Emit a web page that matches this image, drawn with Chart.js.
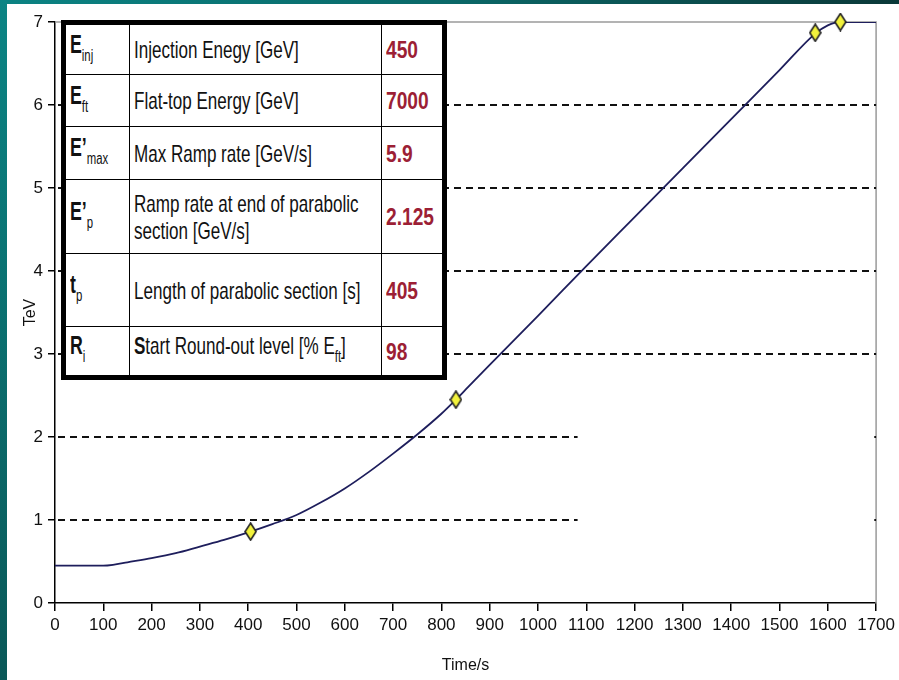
<!DOCTYPE html>
<html>
<head>
<meta charset="utf-8">
<script src="https://cdn.jsdelivr.net/npm/chart.js@4.4.1/dist/chart.umd.min.js"></script>
<style>
  html, body { margin: 0; padding: 0; }
  body { width: 899px; height: 680px; position: relative; overflow: hidden; background: #0b6e6e; }
  #topbar { position: absolute; left: 0; top: 0; width: 899px; height: 4px;
    background: linear-gradient(to right, #0b8383, #0a6868 50%, #0a3838); }
  #leftbar { position: absolute; left: 0; top: 0; width: 7px; height: 680px;
    background: linear-gradient(to bottom, #0b8484, #0a5858); }
  #wrap { position: absolute; left: 7px; top: 4px; width: 892px; height: 676px; background: #fff; }
  #params { position: absolute; left: 61px; top: 20px; width: 386px; table-layout: fixed;
    border-collapse: collapse; border: 5px solid #000; background: #fff; color: #111;
    font-family: "Liberation Sans", Arial, sans-serif; }
  #params td { border: 1.5px solid #000; padding: 0 0 0 4px; vertical-align: middle;
    font-size: 24px; line-height: 27px; white-space: nowrap; overflow: visible; }
  #params td span { display: inline-block; transform: scaleX(0.71); transform-origin: left center; }
  #params td.val span { transform: scaleX(0.8); }
  #params td.sym b { font-size: 25px; }
  #params sub { font-size: 16px; vertical-align: -8px; }
  #params td.val { font-weight: bold; color: #9c1f35; }
</style>
</head>
<body>
<div id="topbar"></div>
<div id="leftbar"></div>
<div id="wrap"><canvas id="rampChart" width="892" height="676"></canvas></div>
<table id="params">
  <colgroup><col style="width:65px"><col style="width:249px"><col style="width:62px"></colgroup>
  <tbody id="paramRows"></tbody>
</table>
<script>
// ramp curve (time in s, energy in TeV)
const timeSec   = [0, 100, 120, 150, 200, 250, 300, 350, 405, 450, 500, 550, 600, 650, 700, 750, 800, 830, 850, 900, 1000, 1100, 1200, 1300, 1400, 1500, 1574, 1600, 1626, 1700];
const energyTeV = [0.45, 0.45, 0.46, 0.49, 0.54, 0.60, 0.68, 0.76, 0.86, 0.95, 1.06, 1.21, 1.38, 1.58, 1.80, 2.03, 2.28, 2.45, 2.57, 2.87, 3.46, 4.06, 4.65, 5.24, 5.83, 6.42, 6.86, 6.96, 7.0, 7.0];

// yellow diamonds
const markerTime = [405, 830, 1574, 1626];
const markerTeV  = [0.86, 2.45, 6.87, 7.0];

const xTickValues = [0, 100, 200, 300, 400, 500, 600, 700, 800, 900, 1000, 1100, 1200, 1300, 1400, 1500, 1600, 1700];
const yTickValues = [0, 1, 2, 3, 4, 5, 6, 7];

// parameter table
const paramSymbols = ['E', 'E', 'E\u2019', 'E\u2019', 't', 'R'];
const paramSubs    = ['inj', 'ft', 'max', 'p', 'p', 'i'];
const paramNames   = ['Injection Enegy [GeV]', 'Flat-top Energy [GeV]', 'Max Ramp rate [GeV/s]',
                      'Ramp rate at end of parabolic<br>section [GeV/s]', 'Length of parabolic section [s]',
                      '<b>S</b>tart Round-out level [% E<sub>ft</sub>]'];
const paramValues  = ['450', '7000', '5.9', '2.125', '405', '98'];
const rowHeights   = [52, 52, 53, 74, 73, 51];

const tbody = document.getElementById('paramRows');
paramNames.forEach(function (name, i) {
  const tr = document.createElement('tr');
  tr.style.height = rowHeights[i] + 'px';
  tr.innerHTML = '<td class="sym"><span><b>' + paramSymbols[i] + '</b><sub>' + paramSubs[i] + '</sub></span></td>' +
                 '<td><span>' + name + '</span></td><td class="val"><span>' + paramValues[i] + '</span></td>';
  tbody.appendChild(tr);
});

const FONT = '"Liberation Sans", Arial, sans-serif';

function diamond(w, h) {
  const c = document.createElement('canvas');
  c.width = w; c.height = h;
  const g = c.getContext('2d');
  g.beginPath();
  g.moveTo(w / 2, 1); g.lineTo(w - 1, h / 2); g.lineTo(w / 2, h - 1); g.lineTo(1, h / 2);
  g.closePath();
  g.fillStyle = '#f2f23c'; g.fill();
  g.lineWidth = 1.6; g.strokeStyle = '#222'; g.stroke();
  return c;
}

// dashed levels + grey frame on top and right
const refLines = {
  id: 'refLines',
  beforeDatasetsDraw(chart, args, opts) {
    const { ctx, chartArea: a, scales: { x, y } } = chart;
    ctx.save();
    ctx.strokeStyle = opts.frameColor;
    ctx.lineWidth = 1.5;
    ctx.beginPath();
    ctx.moveTo(a.left, a.top); ctx.lineTo(a.right, a.top); ctx.lineTo(a.right, a.bottom);
    ctx.stroke();
    ctx.strokeStyle = opts.color;
    ctx.lineWidth = opts.width;
    ctx.setLineDash(opts.dash);
    opts.segments.forEach(function (s) {
      const py = Math.round(y.getPixelForValue(s[0]));
      ctx.beginPath();
      ctx.moveTo(x.getPixelForValue(s[1]) + 3, py);
      ctx.lineTo(x.getPixelForValue(s[2]), py);
      ctx.stroke();
    });
    ctx.restore();
  }
};

new Chart(document.getElementById('rampChart'), {
  type: 'line',
  data: {
    datasets: [{
      data: markerTime.map((t, i) => ({ x: t, y: markerTeV[i] })),
      showLine: false,
      pointStyle: diamond(13, 19),
      pointRadius: 9,
      clip: false,
      order: 0
    }, {
      data: timeSec.map((t, i) => ({ x: t, y: energyTeV[i] })),
      borderColor: '#1e1e5c',
      borderWidth: 1.8,
      pointRadius: 0,
      cubicInterpolationMode: 'monotone',
      order: 1
    }]
  },
  options: {
    responsive: false,
    animation: false,
    layout: { padding: { top: 18, right: 19, left: 0, bottom: 0 } },
    plugins: {
      legend: { display: false },
      tooltip: { enabled: false },
      refLines: {
        color: '#111', width: 2, dash: [7, 5], frameColor: '#9a9a9a',
        segments: [[1, 0, 1082], [1, 1690, 1700], [2, 0, 1082], [2, 1690, 1700],
                   [3, 0, 1700], [4, 0, 1700], [5, 0, 1700], [6, 0, 1700]]
      }
    },
    scales: {
      x: {
        type: 'linear', min: 0, max: 1700,
        afterBuildTicks: s => { s.ticks = xTickValues.map(v => ({ value: v })); },
        afterFit: s => { s.height = 77; },
        grid: { drawOnChartArea: false, color: '#000', tickLength: 8, lineWidth: 1.5 },
        border: { color: '#000', width: 1.5 },
        ticks: { color: '#111', font: { family: FONT, size: 17 }, padding: 4, maxRotation: 0, autoSkip: false,
                 callback: v => String(v) },
        title: { display: true, text: 'Time/s', color: '#111', font: { family: FONT, size: 16 }, padding: { top: 0, bottom: 5 } }
      },
      y: {
        min: 0, max: 7,
        afterBuildTicks: s => { s.ticks = yTickValues.map(v => ({ value: v })); },
        afterFit: s => { s.width = 48; },
        grid: { drawOnChartArea: false, color: '#000', tickLength: 7, lineWidth: 1.5 },
        border: { color: '#000', width: 1.5 },
        ticks: { color: '#111', font: { family: FONT, size: 17 }, padding: 5, callback: v => String(v) },
        title: { display: true, text: 'TeV', color: '#111', font: { family: FONT, size: 16 }, padding: { top: 14, bottom: 0 } }
      }
    }
  },
  plugins: [refLines]
});
</script>
</body>
</html>
